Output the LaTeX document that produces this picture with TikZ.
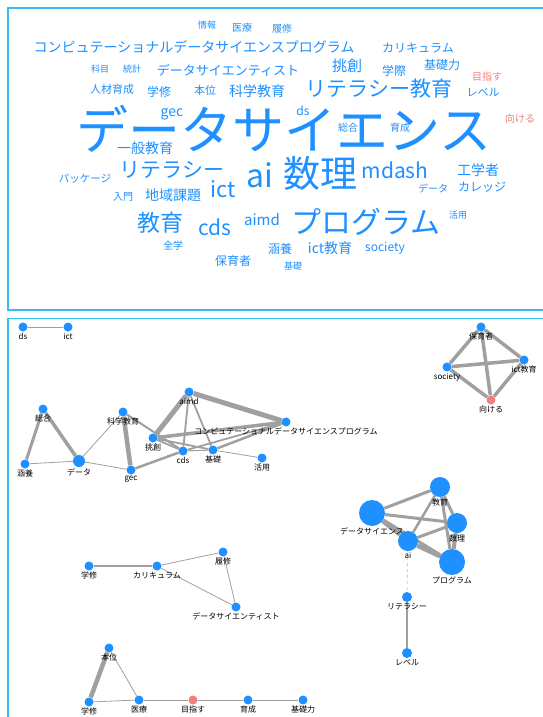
\documentclass[tikz,border=0pt]{standalone}
\usepackage{fontspec}
\newfontfamily\jp{Noto Sans CJK JP}
\usetikzlibrary{backgrounds}
\definecolor{wblue}{RGB}{30,144,255}
\definecolor{wred}{RGB}{240,128,128}
\definecolor{egray}{RGB}{160,160,160}
\definecolor{bcol}{RGB}{50,190,240}
\begin{document}
\begin{tikzpicture}[x=1pt,y=-1pt,
  wd/.style={text=wblue, font=\jp\fontsize{#1}{#1}\selectfont, inner sep=0pt},
  wr/.style={text=wred, font=\jp\fontsize{#1}{#1}\selectfont, inner sep=0pt},
  lbl/.style={font=\jp\fontsize{8}{8}\selectfont, text=black, inner sep=0pt, label distance=1pt},
  nd/.style={circle, fill=wblue, inner sep=0pt, minimum size=9pt},
  ndr/.style={circle, fill=wred, inner sep=0pt, minimum size=9pt},
  ed/.style={draw=egray, line width=#1},
  panel/.style={draw=bcol, line width=1.3pt}]
\useasboundingbox (0,0) rectangle (543,717);
\clip (0,0) rectangle (543,717);

% ---------- word cloud ----------
\node[wd=9]  (w1)  at (207,25) {情報};
\node[wd=10] (w2)  at (242,28) {医療};
\node[wd=10] (w3)  at (282,29) {履修};
\node[wd=14] (w4)  at (194,47) {コンピュテーショナルデータサイエンスプログラム};
\node[wd=12] (w5)  at (418,48) {カリキュラム};
\node[wd=9]  (w6)  at (100,69) {科目};
\node[wd=9]  (w7)  at (132,69) {統計};
\node[wd=13] (w8)  at (228,70) {データサイエンティスト};
\node[wd=15] (w9)  at (347,66) {挑創};
\node[wd=12] (w10) at (394,71) {学際};
\node[wd=12] (w11) at (442,65) {基礎力};
\node[wr=10] (w12) at (487,77) {目指す};
\node[wd=11] (w13) at (112,89) {人材育成};
\node[wd=12] (w14) at (159,92) {学修};
\node[wd=11] (w15) at (205,90) {本位};
\node[wd=14] (w16) at (257,91) {科学教育};
\node[wd=21] (w17) at (379,89) {リテラシー教育};
\node[wd=11] (w18) at (483,93) {レベル};
\node[wd=52] (w19) at (284,129) {データサイエンス};
\node[wd=14] (w20) at (172,114) {gec};
\node[wd=12] (w21) at (303,111) {ds};
\node[wd=10] (w22) at (348,128) {総合};
\node[wd=10] (w23) at (400,128) {育成};
\node[wr=10] (w24) at (520,119) {向ける};
\node[wd=14] (w25) at (145,148) {一般教育};
\node[wd=21] (w26) at (172,170) {リテラシー};
\node[wd=10.5] (w27) at (85,179) {パッケージ};
\node[wd=32] (w28) at (260,175) {ai};
\node[wd=37] (w29) at (320,173) {数理};
\node[wd=21] (w30) at (395,170) {mdash};
\node[wd=14] (w31) at (478,170) {工学者};
\node[wd=10] (w32) at (123,197) {入門};
\node[wd=14] (w33) at (173,195) {地域課題};
\node[wd=22] (w34) at (223,189) {ict};
\node[wd=10] (w35) at (433,189) {データ};
\node[wd=12] (w36) at (482,187) {カレッジ};
\node[wd=23] (w37) at (160,223) {教育};
\node[wd=21] (w38) at (215,227) {cds};
\node[wd=15] (w39) at (262,220) {aimd};
\node[wd=30] (w40) at (366,222) {プログラム};
\node[wd=9]  (w41) at (458,215) {活用};
\node[wd=10] (w42) at (173,246) {全学};
\node[wd=12] (w43) at (280,249) {涵養};
\node[wd=14] (w44) at (330,248) {ict教育};
\node[wd=12] (w45) at (385,248) {society};
\node[wd=12] (w46) at (233,261) {保育者};
\node[wd=9]  (w47) at (293,266) {基礎};

% ---------- network nodes ----------
\node[nd, label={[lbl]below:ds}] (ds) at (23,327) {};
\node[nd, label={[lbl]below:ict}] (ict) at (68,327) {};

\node[nd, label={[lbl]below:aimd}] (aimd) at (189,392) {};
\node[nd, label={[lbl]below:総合}] (sogo) at (43,409) {};
\node[nd, label={[lbl]below:科学教育}] (kagaku) at (123,412) {};
\node[nd, label={[lbl]below:挑創}] (chouso) at (153,438) {};
\node[nd, label={[lbl]below:cds}] (cds) at (183,451) {};
\node[nd, label={[lbl]below:基礎}] (kiso) at (213,450) {};
\node[nd, label={[lbl]below:活用}] (katsuyo) at (262,458) {};
\node[nd, label={[lbl]below:涵養}] (kanyo) at (25,464) {};
\node[nd, minimum size=12pt, label={[lbl]below:データ}] (data) at (79,461) {};
\node[nd, label={[lbl]below:gec}] (gec) at (131,470) {};
\node[nd, label={[lbl]below:コンピュテーショナルデータサイエンスプログラム}] (compu) at (286,422) {};

\node[nd, label={[lbl]below:保育者}] (hoiku) at (481,327) {};
\node[nd, label={[lbl]below:society}] (soc) at (447,367) {};
\node[nd, label={[lbl]below:ict教育}] (ictk) at (524,360) {};
\node[ndr, label={[lbl]below:向ける}] (mukeru) at (491,400) {};

\node[nd, minimum size=20pt, label={[lbl]below:教育}] (kyoiku) at (440,487) {};
\node[nd, minimum size=26pt, label={[lbl]below:データサイエンス}] (ds2) at (372,513) {};
\node[nd, minimum size=20pt, label={[lbl]below:数理}] (suri) at (457,523) {};
\node[nd, minimum size=20pt, label={[lbl]below:ai}] (ai) at (408,541) {};
\node[nd, minimum size=26pt, label={[lbl]below:プログラム}] (prog) at (452,562) {};
\node[nd, minimum size=10pt, label={[lbl]below:リテラシー}] (lit) at (407,597) {};
\node[nd, minimum size=10pt, label={[lbl]below:レベル}] (level) at (407,653) {};

\node[nd, label={[lbl]below:学修}] (gakushu1) at (89,566) {};
\node[nd, label={[lbl]below:カリキュラム}] (curri) at (157,566) {};
\node[nd, label={[lbl]below:履修}] (rishu) at (223,552) {};
\node[nd, label={[lbl]below:データサイエンティスト}] (dsci) at (236,607) {};

\node[nd, label={[lbl]below:本位}] (honi) at (109,648) {};
\node[nd, label={[lbl]below:学修}] (gakushu2) at (89,702) {};
\node[nd, label={[lbl]below:医療}] (iryo) at (139,700) {};
\node[ndr, label={[lbl]below:目指す}] (mezasu) at (193,700) {};
\node[nd, label={[lbl]below:育成}] (ikusei) at (248,700) {};
\node[nd, label={[lbl]below:基礎力}] (kisoryoku) at (303,700) {};

% ---------- panels and edges (behind nodes) ----------
\begin{scope}[on background layer]
\fill[white] (0,0) rectangle (543,717);
\draw[panel] (8,8) rectangle (560,310);
\draw[panel] (8,318.5) rectangle (560,730);

\draw[ed=1] (ds) -- (ict);

\draw[ed=3] (sogo) -- (kanyo);
\draw[ed=3.5] (sogo) -- (data);
\draw[ed=0.8] (kanyo) -- (data);
\draw[ed=0.8] (data) -- (kagaku);
\draw[ed=0.8] (data) -- (gec);
\draw[ed=4.5] (kagaku) -- (gec);
\draw[ed=2] (kagaku) -- (cds);
\draw[ed=2.5] (gec) -- (cds);
\draw[ed=5] (aimd) -- (chouso);
\draw[ed=1.8] (aimd) -- (cds);
\draw[ed=1.8] (aimd) -- (kiso);
\draw[ed=5] (aimd) -- (compu);
\draw[ed=3.5] (chouso) -- (compu);
\draw[ed=1.8] (chouso) -- (kiso);
\draw[ed=1.8] (chouso) -- (cds);
\draw[ed=1.8] (cds) -- (compu);
\draw[ed=2.5] (kiso) -- (compu);
\draw[ed=1] (cds) -- (kiso);
\draw[ed=0.8] (kiso) -- (katsuyo);

\draw[ed=3.5] (hoiku) -- (soc);
\draw[ed=3.5] (hoiku) -- (ictk);
\draw[ed=3.5] (hoiku) -- (mukeru);
\draw[ed=3.5] (soc) -- (ictk);
\draw[ed=3.5] (soc) -- (mukeru);
\draw[ed=3.5] (ictk) -- (mukeru);

\draw[ed=3] (kyoiku) -- (ds2);
\draw[ed=3] (kyoiku) -- (suri);
\draw[ed=3] (kyoiku) -- (prog);
\draw[ed=2.5] (kyoiku) -- (ai);
\draw[ed=3] (ds2) -- (suri);
\draw[ed=4] (ds2) -- (ai);
\draw[ed=3] (ds2) -- (prog);
\draw[ed=3] (ai) -- (suri);
\draw[ed=4.5] (ai) -- (prog);
\draw[ed=4] (suri) -- (prog);
\draw[draw=egray!50, line width=0.8pt, dashed] (ai) -- (lit);
\draw[ed=1.8] (lit) -- (level);

\draw[ed=2.5] (gakushu1) -- (curri);
\draw[ed=0.8] (curri) -- (rishu);
\draw[ed=0.8] (curri) -- (dsci);
\draw[ed=0.8] (rishu) -- (dsci);

\draw[ed=4.5] (honi) -- (gakushu2);
\draw[ed=0.8] (honi) -- (iryo);
\draw[ed=0.8] (gakushu2) -- (iryo);
\draw[ed=1] (iryo) -- (mezasu);
\draw[ed=1] (mezasu) -- (ikusei);
\draw[ed=1] (ikusei) -- (kisoryoku);
\end{scope}
\end{tikzpicture}
\end{document}
